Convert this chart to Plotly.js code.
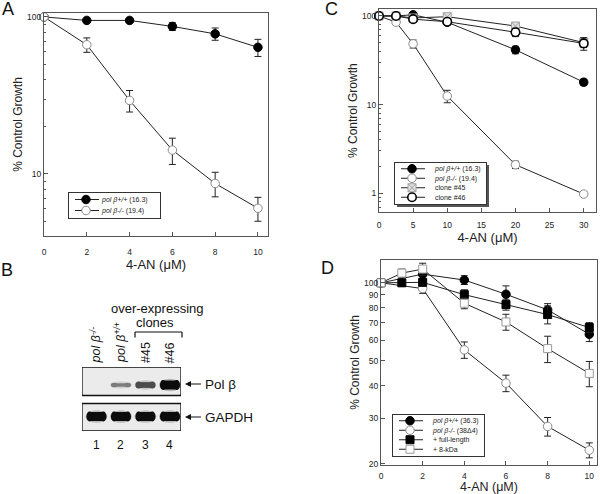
<!DOCTYPE html>
<html><head><meta charset="utf-8">
<script src="https://cdn.plot.ly/plotly-3.0.1.min.js"></script>
<style>html,body{margin:0;padding:0;background:#fff;overflow:hidden}#chart{width:600px;height:494px}</style>
</head><body><div id="chart"></div>
<script>
// ---------- Panel A ----------
const doseA = [0, 2, 4, 6, 8, 10];
const wtA = [100, 95, 95, 87, 78, 64];
const wtAErr = [0, 2, 2, 5, 7, 8];
const koA = [100, 66.5, 29.4, 14.2, 8.7, 6.05];
const koAErr = [0, 7, 4.6, 2.7, 1.55, 1.05];
const namesA = ['<i>pol β+/+</i> (16.3)', '<i>pol β-/-</i> (19.4)'];

// ---------- Panel C ----------
const doseC = [0, 2.5, 5, 10, 20, 30];
const wtC = [100, 100, 103, 85, 41.5, 17.9];
const wtCErr = [0, 0, 0, 3, 4, 1.5];
const koC = [100, 85, 48.5, 12.5, 2.1, 0.98];
const koCErr = [0, 5, 5, 2, 0.2, 0.05];
const c45 = [100, 100, 95, 98, 77, 50];
const c45Err = [0, 0, 0, 4, 6, 6];
const c46 = [100, 100, 92, 86, 65.5, 49];
const c46Err = [0, 0, 5, 4, 7, 8];
const namesC = ['<i>pol β+/+</i> (16.3)', '<i>pol β-/-</i> (19.4)', 'clone #45', 'clone #46'];

// ---------- Panel D ----------
const doseD1 = [0, 2, 4, 6, 8, 10];
const doseD2 = [0, 1, 2, 4, 6, 8, 10];
const wtD = [100, 108, 102.5, 90.3, 78.6, 63.3];
const wtDErr = [0, 5, 4, 7, 4.5, 4];
const koD = [100, 95, 55.1, 41, 27.9, 22.6];
const koDErr = [0, 4, 4, 3, 2.3, 1.5];
const flD = [100, 100, 100.4, 90, 82.4, 75.4, 67.2];
const flDErr = [0, 3, 3, 4, 4, 6, 3];
const kdD = [100, 109, 113, 83.4, 70.6, 55.7, 44.7];
const kdDErr = [0, 4, 6, 4, 5, 6.5, 5];
const namesD = ['<i>pol β+/+</i> (36.3)', '<i>pol β-/-</i> (38Δ4)', '+ full-length', '+ 8-kDa'];

// ---------- Panel B (western blot) ----------
const lanes = [1, 2, 3, 4];
const laneLabels = ['<i>pol β</i>', '<i>pol β</i>', '#45', '#46'];
const laneGenotype = ['-/-', '+/+', '', ''];
const polBSignal = [0, 0.3, 0.6, 1];
const gapdhSignal = [1, 1, 1, 1];
const bandLabels = ['Pol β', 'GAPDH'];

// ---------- helpers ----------
const W = 600, H = 494;
const PX = p => p / W;
const PY = p => 1 - p / H;
const FONT = 'Liberation Sans, Arial, Helvetica, sans-serif';

const LINE = {color: '#222', width: 1};
const ERR = arr => ({type: 'data', array: arr, visible: true, color: '#222', thickness: 1, width: 3.5});
const M = {
  fc: {symbol: 'circle', size: 8.5, color: '#000', line: {color: '#000', width: 1}},
  oc: {symbol: 'circle', size: 8.5, color: '#fff', line: {color: '#8a8a8a', width: 1}},
  gs: {symbol: 'square-x', size: 8, color: '#e2e2e2', line: {color: '#a0a0a0', width: 1}},
  bc: {symbol: 'circle', size: 8.5, color: '#fff', line: {color: '#000', width: 1.6}},
  fs: {symbol: 'square', size: 8, color: '#000', line: {color: '#000', width: 1}},
  os: {symbol: 'square', size: 8, color: '#fff', line: {color: '#999', width: 1}}
};
function tr(x, y, err, name, marker, xa, ya, leg) {
  return {type: 'scatter', mode: 'lines+markers', x, y, name, marker, line: LINE,
    error_y: ERR(err), xaxis: xa, yaxis: ya, legend: leg, cliponaxis: false};
}

const data = [
  tr(doseA, wtA, wtAErr, namesA[0], M.fc, 'x', 'y', 'legend'),
  tr(doseA, koA, koAErr, namesA[1], M.oc, 'x', 'y', 'legend'),
  tr(doseC, wtC, wtCErr, namesC[0], M.fc, 'x2', 'y2', 'legend2'),
  tr(doseC, koC, koCErr, namesC[1], M.oc, 'x2', 'y2', 'legend2'),
  tr(doseC, c45, c45Err, namesC[2], M.gs, 'x2', 'y2', 'legend2'),
  tr(doseC, c46, c46Err, namesC[3], M.bc, 'x2', 'y2', 'legend2'),
  tr(doseD1, wtD, wtDErr, namesD[0], M.fc, 'x3', 'y3', 'legend3'),
  tr(doseD1, koD, koDErr, namesD[1], M.oc, 'x3', 'y3', 'legend3'),
  tr(doseD2, flD, flDErr, namesD[2], M.fs, 'x3', 'y3', 'legend3'),
  tr(doseD2, kdD, kdDErr, namesD[3], M.os, 'x3', 'y3', 'legend3')
];

const AX = {showline: true, linecolor: '#555', linewidth: 1, mirror: true, ticks: 'inside',
  ticklen: 4, tickcolor: '#555', tickwidth: 1, tickfont: {size: 8.5, color: '#222', family: FONT},
  showgrid: false, zeroline: false, fixedrange: true};
const MINOR = vals => ({ticks: 'inside', ticklen: 2, tickcolor: '#555', tickmode: 'array', tickvals: vals, showgrid: false});
const xTitle = (so, fs) => ({text: '4-AN (μM)', font: {size: fs || 13, color: '#222', family: FONT}, standoff: so});
const yTitle = {text: '% Control Growth', font: {size: 12, color: '#222', family: FONT}, standoff: 1};
// legends are laid out inside the paper; their final top edge is set in compactLegends
const LEG = (x, y) => ({x: PX(x), y: PY(y), xanchor: 'left', yanchor: 'top',
  bgcolor: '#fff', bordercolor: '#333', borderwidth: 1, font: {size: 7, family: FONT, color: '#222'},
  itemwidth: 30, tracegroupgap: 0});
const LEGEND_TOP = {legend: 192, legend2: 162, legend3: 414};

const layout = {
  width: W, height: H, margin: {l: 0, r: 0, t: 0, b: 0},
  paper_bgcolor: '#fff', plot_bgcolor: '#fff',
  font: {family: FONT, color: '#222'},
  showlegend: true,
  xaxis: Object.assign({}, AX, {domain: [PX(44), PX(268)], range: [0, 10.47], anchor: 'y',
    tickvals: [0, 2, 4, 6, 8, 10], ticklabelstandoff: 8, title: xTitle(0)}),
  yaxis: Object.assign({}, AX, {domain: [PY(236), PY(13)], type: 'log', range: [0.605, 2.025], anchor: 'x',
    tickvals: [10, 100], ticktext: ['10', '100'], minor: MINOR([5, 6, 7, 8, 9, 20, 30, 40, 50, 60, 70, 80, 90]), title: yTitle}),
  xaxis2: Object.assign({}, AX, {domain: [PX(379), PX(596)], range: [0, 31.8], anchor: 'y2',
    tickvals: [0, 5, 10, 15, 20, 25, 30], ticklabelstandoff: 5, title: xTitle(0)}),
  yaxis2: Object.assign({}, AX, {domain: [PY(212), PY(9.3)], type: 'log', range: [-0.211, 2.075], anchor: 'x2',
    tickvals: [1, 10, 100], ticktext: ['1', '10', '100'],
    minor: MINOR([0.7, 0.8, 0.9, 2, 3, 4, 5, 6, 7, 8, 9, 20, 30, 40, 50, 60, 70, 80, 90]), title: yTitle}),
  xaxis3: Object.assign({}, AX, {domain: [PX(381), PX(597)], range: [0, 10.37], anchor: 'y3',
    tickvals: [0, 2, 4, 6, 8, 10], ticklabelstandoff: 3, title: xTitle(1, 12.5)}),
  yaxis3: Object.assign({}, AX, {domain: [PY(465), PY(260)], type: 'log', range: [1.2967, 2.088], anchor: 'x3',
    tickvals: [20, 30, 40, 50, 60, 70, 80, 90, 100], title: yTitle}),
  xaxis4: {domain: [PX(82), PX(181)], range: [0.41, 4.45], anchor: 'y4', visible: false, fixedrange: true},
  yaxis4: {domain: [PY(431), PY(367)], range: [431, 367], anchor: 'x4', visible: false, fixedrange: true},
  legend: LEG(68, 180),
  legend2: LEG(394, 150),
  legend3: LEG(392, 395),
  shapes: [],
  annotations: []
};

// panel letters
[['A', 8, 9], ['B', 7, 270], ['C', 331, 9], ['D', 327, 268]].forEach(([t, x, y]) => {
  layout.annotations.push({text: t, x: PX(x), y: PY(y), xref: 'paper', yref: 'paper', showarrow: false,
    xanchor: 'center', yanchor: 'middle', font: {size: 18, family: FONT, color: '#111'}});
});

// ---------- blot drawing ----------
const S = layout.shapes;
const BX0 = 0.41, BX1 = 4.45;
const panels = [{y0: 367, y1: 395.5, yc: 385, sig: polBSignal}, {y0: 403.5, y1: 431, yc: 416.5, sig: gapdhSignal}];
panels.forEach(p => {
  S.push({type: 'rect', xref: 'x4', yref: 'y4', x0: BX0, x1: BX1, y0: p.y0, y1: p.y1,
    fillcolor: '#ebebeb', line: {color: '#111', width: 1.3}});
  lanes.forEach((ln, i) => {
    const s = p.sig[i];
    if (s <= 0) return;
    const hh = 0.5 + 4 * s;
    const g = Math.round(12 + 160 * (1 - s));
    const col = `rgb(${g},${g},${g})`;
    const hw = 0.41;
    S.push({type: 'circle', xref: 'x4', yref: 'y4', x0: ln - hw - 0.04, x1: ln + hw + 0.04,
      y0: p.yc - hh - 1.8, y1: p.yc + hh + 1.8, fillcolor: col, opacity: 0.22, line: {width: 0}});
    S.push({type: 'rect', xref: 'x4', yref: 'y4', x0: ln - hw + 0.1, x1: ln + hw - 0.1,
      y0: p.yc - hh, y1: p.yc + hh, fillcolor: col, line: {width: 0}});
    S.push({type: 'circle', xref: 'x4', yref: 'y4', x0: ln - hw, x1: ln - hw + 0.26,
      y0: p.yc - hh - 0.6, y1: p.yc + hh + 0.6, fillcolor: col, line: {width: 0}});
    S.push({type: 'circle', xref: 'x4', yref: 'y4', x0: ln + hw - 0.26, x1: ln + hw,
      y0: p.yc - hh - 0.6, y1: p.yc + hh + 0.6, fillcolor: col, line: {width: 0}});
  });
});
// bracket over clones 3-4
S.push({type: 'line', xref: 'paper', yref: 'paper', x0: PX(135), x1: PX(182), y0: PY(332), y1: PY(332), line: {color: '#111', width: 1.2}});
S.push({type: 'line', xref: 'paper', yref: 'paper', x0: PX(135), x1: PX(135), y0: PY(332), y1: PY(337.5), line: {color: '#111', width: 1.2}});
S.push({type: 'line', xref: 'paper', yref: 'paper', x0: PX(182), x1: PX(182), y0: PY(332), y1: PY(337.5), line: {color: '#111', width: 1.2}});

const A = layout.annotations;
A.push({text: 'over-expressing', x: PX(157), y: PY(308), xref: 'paper', yref: 'paper', showarrow: false,
  xanchor: 'center', yanchor: 'middle', font: {size: 13, family: FONT, color: '#111'}});
A.push({text: 'clones', x: PX(155), y: PY(322), xref: 'paper', yref: 'paper', showarrow: false,
  xanchor: 'center', yanchor: 'middle', font: {size: 13, family: FONT, color: '#111'}});
lanes.forEach((ln, i) => {
  A.push({text: laneLabels[i], x: ln, y: PY(364), xref: 'x4', yref: 'paper', showarrow: false, textangle: -90,
    xanchor: 'center', yanchor: 'bottom', borderpad: 0, font: {size: 12.5, family: FONT, color: '#111'}});
  if (laneGenotype[i]) {
    // superscript genotype, set above the rotated "pol β"
    A.push({text: '<i>' + laneGenotype[i] + '</i>', x: ln, y: PY(335.5), xref: 'x4', yref: 'paper', showarrow: false,
      textangle: -90, xanchor: 'center', yanchor: 'bottom', xshift: -4, borderpad: 0,
      font: {size: 8.5, family: FONT, color: '#111'}});
  }
  A.push({text: String(ln), x: ln, y: PY(445), xref: 'x4', yref: 'paper', showarrow: false,
    xanchor: 'center', yanchor: 'middle', font: {size: 12, family: FONT, color: '#111'}});
});
[[384, bandLabels[0]], [417, bandLabels[1]]].forEach(([py, t]) => {
  A.push({text: t, x: PX(185), y: PY(py), xref: 'paper', yref: 'paper', showarrow: true,
    ax: 16, ay: 0, xanchor: 'left', yanchor: 'middle', standoff: 0, borderpad: 3,
    arrowhead: 2, arrowsize: 1, arrowwidth: 1.2, arrowcolor: '#111',
    font: {size: 13.5, family: FONT, color: '#111'}});
});

// tighten legend rows / symbol area to the compact look of the original figure
function compactLegends(gd) {
  const spec = {legend: 11, legend2: 9.5, legend3: 9.5};
  const SHIFT = 7;
  const re = /translate\(\s*([-\d.e]+)[\s,]+([-\d.e]+)\s*\)/;
  Object.keys(spec).forEach(id => {
    const lg = gd.querySelector('g.infolayer > g.' + id);
    if (!lg) return;
    const lm = re.exec(lg.getAttribute('transform') || '');
    if (lm) lg.setAttribute('transform', `translate(${lm[1]},${LEGEND_TOP[id]})`);
    const items = lg.querySelectorAll('g.traces');
    const step = spec[id];
    items.forEach((it, i) => {
      const m = re.exec(it.getAttribute('transform') || '');
      if (m) it.setAttribute('transform', `translate(${m[1]},${(2 + step / 2 + i * step).toFixed(2)})`);
      const pts = it.querySelector('g.legendpoints');
      if (pts) pts.setAttribute('transform', 'translate(-3,0)');
      it.querySelectorAll('path.js-line').forEach(p => p.setAttribute('d', 'M6,0h24'));
      const txt = it.querySelector('text.legendtext');
      if (txt) {
        const x = parseFloat(txt.getAttribute('x'));
        if (!isNaN(x)) txt.setAttribute('x', x - SHIFT);
      }
    });
    const bg = lg.querySelector('rect.bg');
    if (bg && items.length) {
      bg.setAttribute('height', 4 + items.length * step);
      const w = parseFloat(bg.getAttribute('width'));
      if (!isNaN(w)) bg.setAttribute('width', w - 1);
      if (id === 'legend2') {
        const sh = bg.cloneNode(false);
        sh.setAttribute('class', 'shadow');
        sh.style.fill = '#555';
        sh.style.stroke = 'none';
        sh.setAttribute('transform', 'translate(2.5,2.5)');
        bg.parentNode.insertBefore(sh, bg);
      }
    }
  });
  gd.querySelectorAll('svg text').forEach(t => { if (!t.textContent.trim()) t.remove(); });
}

Plotly.newPlot('chart', data, layout, {staticPlot: true, displayModeBar: false}).then(compactLegends);
</script></body></html>
